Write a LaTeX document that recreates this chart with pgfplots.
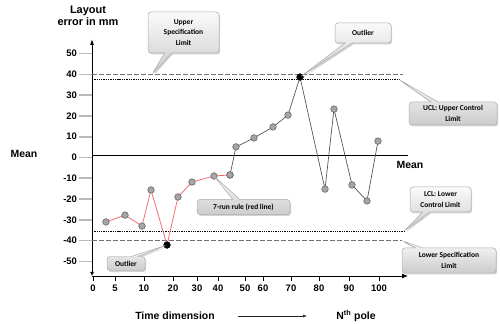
\documentclass[border=0pt]{standalone}
\usepackage{fontspec}
\setmainfont{Liberation Sans}
\newfontfamily\calfont{Carlito}
\usepackage{pgfplots}
\pgfplotsset{compat=1.18}
\usetikzlibrary{shapes.callouts,shadows,arrows.meta}
\definecolor{redline}{RGB}{238,110,110}
\definecolor{grayline}{RGB}{85,85,85}
\definecolor{markfill}{RGB}{165,165,165}
\definecolor{markdraw}{RGB}{90,90,90}
\definecolor{dashgray}{RGB}{115,115,115}
\tikzset{
  co/.style={rectangle callout, rounded corners=3bp, draw=gray!65, line width=0.5pt,
    top color=gray!4, bottom color=gray!40, align=center, inner sep=1bp,
    font=\calfont\bfseries\fontsize{7.5}{10.5}\selectfont,
    drop shadow={opacity=0.35, shadow xshift=1.2bp, shadow yshift=-1.5bp}}
}
\begin{document}
\begin{tikzpicture}
\path[use as bounding box] (0,0) rectangle (500bp,324bp);
\begin{axis}[
  at={(92bp,48bp)}, anchor=south west,
  scale only axis, width=316bp, height=237bp,
  xmin=0, xmax=316, ymin=-57, ymax=57,
  axis x line=bottom, axis y line=left,
  x axis line style={-{Latex[length=6bp,width=5bp]}, line width=0.9pt},
  y axis line style={{Latex[length=4bp,width=4bp]}-{Latex[length=6bp,width=4bp]}, line width=0.9pt},
  xtick={1,23,52,81,105,126,153,171,199,227,257,287},
  xticklabels={0,5,10,20,30,40,50,60,70,80,90,100},
  ytick={-50,-40,-30,-20,-10,0,10,20,30,40,50},
  ytick style={draw=none},
  xtick style={black, line width=0.6pt},
  major tick length=5bp, tick align=outside,
  /pgf/number format/assume math mode=true,
  ticklabel style={font=\bfseries\fontsize{9.5}{10}\selectfont},
  yticklabel style={xshift=-6.5bp},
  clip=false,
]
\pgfplotsinvokeforeach{-50,-40,-30,-20,-10,0,10,20,30,40,50}{
  \draw[gray!55, line width=1.6pt] (axis cs:-13,#1) -- (axis cs:0,#1);
}
% limits and mean
\addplot[dashgray, line width=0.9pt, dash pattern=on 4.5bp off 2.5bp] coordinates {(0,40) (311,40)};
\addplot[black, densely dotted, line width=1.3pt] coordinates {(0,37.5) (308,37.5)};
\addplot[black, densely dotted, line width=1.3pt] coordinates {(0,-35.5) (312,-35.5)};
\addplot[dashgray, line width=0.9pt, dash pattern=on 4.5bp off 2.5bp] coordinates {(0,-40) (310,-40)};
\addplot[black, line width=1pt] coordinates {(0,1) (316,1)};
% gray run
\addplot[grayline, line width=0.7pt, mark=*, mark size=3.3bp,
  mark options={fill=markfill, draw=markdraw, line width=0.5pt}] coordinates {
  (138,-8.4) (144,5.1) (162,9.4) (181,14.7) (196,20.4) (208,38.7)
  (233,-15.2) (242,23.3) (260,-13.2) (275,-20.9) (286,7.9)};
% red run
\addplot[redline, line width=0.8pt, mark=*, mark size=3.3bp,
  mark options={fill=markfill, draw=markdraw, line width=0.5pt}] coordinates {
  (14,-31.0) (33,-27.7) (50,-33.0) (59,-15.6) (75,-42.1) (86,-19.0)
  (100,-11.8) (122,-8.9) (138,-8.4)};
% outliers
\addplot[only marks, mark=*, mark size=3.3bp, mark options={fill=black, draw=black}]
  coordinates {(75,-42.1) (208,38.7)};
\coordinate (usl) at (axis cs:60,40);
\coordinate (ucl) at (axis cs:307,37.5);
\coordinate (lcl) at (axis cs:312,-35.5);
\coordinate (lsl) at (axis cs:310,-40);
\coordinate (otop) at (axis cs:208,38.7);
\coordinate (obot) at (axis cs:75,-42.1);
\coordinate (run) at (axis cs:122,-8.9);
\end{axis}
% callouts
\node[co, minimum width=71bp, minimum height=41bp, callout absolute pointer=(usl)] at (183.5bp,291.5bp) {Upper\\Specification\\Limit};
\node[co, minimum width=56bp, minimum height=20bp, callout absolute pointer=(otop)] at (363bp,291bp) {Outlier};
\node[co, minimum width=88bp, minimum height=23bp, callout absolute pointer=(ucl)] at (453bp,210.5bp) {UCL: Upper Control\\Limit};
\node[co, minimum width=93bp, minimum height=15bp, callout absolute pointer=(run)] at (243.5bp,117bp) {7-run rule (red line)};
\node[co, minimum width=38bp, minimum height=14bp, callout absolute pointer=(obot)] at (126bp,60.5bp) {Outlier};
\node[co, minimum width=61bp, minimum height=25bp, callout absolute pointer=(lcl)] at (440.5bp,124.5bp) {LCL: Lower\\Control Limit};
\node[co, minimum width=94bp, minimum height=25bp, callout absolute pointer=(lsl)] at (449bp,63.5bp) {Lower Specification\\Limit};
% text labels
\node[font=\bfseries\fontsize{11}{12.5}\selectfont, align=center] at (88bp,308bp) {Layout\\error in mm};
\node[font=\bfseries\fontsize{10.5}{12}\selectfont] at (24bp,170bp) {Mean};
\node[font=\bfseries\fontsize{10.5}{12}\selectfont] at (410bp,159bp) {Mean};
\node[font=\bfseries\fontsize{10.5}{12}\selectfont] at (175bp,8bp) {Time dimension};
\draw[-{Latex[length=4bp,width=3bp]}, line width=0.5pt, gray!30!black] (238bp,8bp) -- (307bp,8bp);
\node[font=\bfseries\fontsize{10.5}{12}\selectfont] at (356bp,8bp) {N\textsuperscript{th} pole};
\end{tikzpicture}
\end{document}
